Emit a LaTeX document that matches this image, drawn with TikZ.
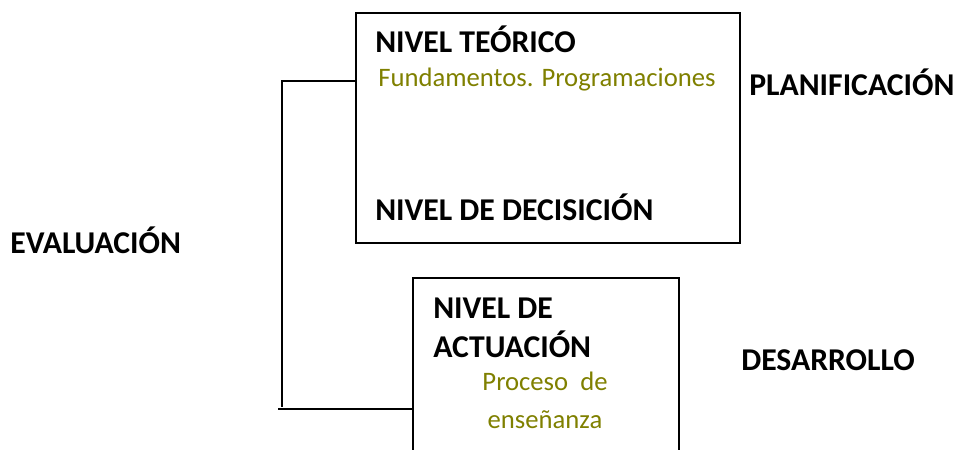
\documentclass[tikz,border=0pt]{standalone}
\usepackage{fontspec}
\setmainfont{Carlito}
\definecolor{olivetx}{HTML}{7F8000}
\usepackage{tikz}
\usetikzlibrary{positioning, calc}

\begin{document}
\begin{tikzpicture}[x=0.75pt, y=-0.75pt,
  box/.style={draw, line width=1.2pt, anchor=north west, inner sep=0pt},
  lvl/.style={font=\fontsize{23.8}{28}\selectfont\bfseries, anchor=base west, inner sep=0pt},
  sub/.style={font=\fontsize{20}{28}\selectfont, text=olivetx, anchor=base west, inner sep=0pt},
  side/.style={font=\fontsize{23.8}{28}\selectfont\bfseries, anchor=base west, inner sep=0pt},
]
  \useasboundingbox (0,0) rectangle (954,450);

  % Boxes
  \node[box, minimum width=288pt, minimum height=172.5pt] (teorico) at (355,12) {};
  \node[box, minimum width=199.5pt, minimum height=150pt] (actuacion) at (412,277) {};

  % Texts in the upper box
  \node[lvl] (tteorico) at (375,52) {NIVEL TEÓRICO};
  \node[sub] (tfund) at (378,86) {Fundamentos. Programaciones};
  \node[lvl] (tdecision) at (375,220) {NIVEL DE DECISICIÓN};

  % Texts in the lower box
  \node[lvl] (tnivel) at (433,318) {NIVEL DE};
  \node[lvl] (tactua) at (433,357) {ACTUACIÓN};
  \node[sub, anchor=base] (tproceso) at (545,390) {Proceso~~de};
  \node[sub, anchor=base] (tensen) at (545,428) {enseñanza};

  % Side labels
  \node[side] (plan) at (749,95) {PLANIFICACIÓN};
  \node[side] (evalua) at (10,253) {EVALUACIÓN};
  \node[side] (desarr) at (741,370) {DESARROLLO};

  % Bracket
  \coordinate (evtop) at (282,81);
  \coordinate (evend) at (282,407);
  \coordinate (evbot) at (278,409);
  \draw[line width=1.2pt] (evtop -| teorico.west) -- (evtop) -- (evend);
  \draw[line width=1.2pt] (evbot) -- (evbot -| actuacion.west);
\end{tikzpicture}
\end{document}
